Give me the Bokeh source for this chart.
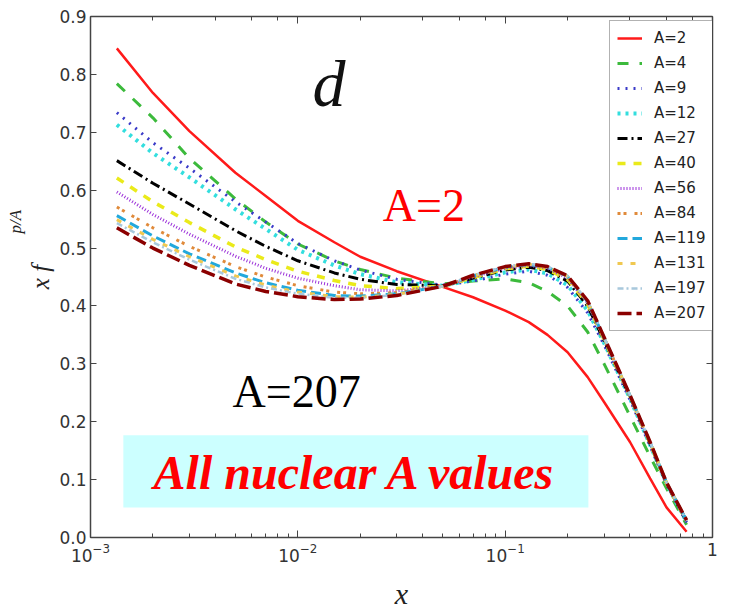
import math
from bokeh.plotting import figure
from bokeh.models import (Range1d, LinearAxis, LogAxis, FixedTicker, PrintfTickFormatter,
                          Legend, LegendItem, Label, BoxAnnotation)
from bokeh.embed import file_html
from bokeh.resources import INLINE

# ---------------- data ----------------
x_vals = [0.00134, 0.002, 0.003, 0.005, 0.007, 0.01, 0.015, 0.02, 0.03, 0.05, 0.07,
          0.1, 0.13, 0.16, 0.2, 0.25, 0.3, 0.4, 0.5, 0.6, 0.75]

a2   = [0.845, 0.768, 0.702, 0.630, 0.590, 0.547, 0.510, 0.485, 0.460, 0.433, 0.415,
        0.392, 0.372, 0.350, 0.320, 0.277, 0.234, 0.165, 0.102, 0.052, 0.010]
a4   = [0.784, 0.725, 0.655, 0.585, 0.545, 0.507, 0.478, 0.463, 0.448, 0.438, 0.443,
        0.447, 0.440, 0.425, 0.400, 0.355, 0.300, 0.210, 0.140, 0.085, 0.022]
a9   = [0.734, 0.682, 0.638, 0.580, 0.545, 0.508, 0.478, 0.462, 0.446, 0.436, 0.443,
        0.455, 0.460, 0.453, 0.432, 0.388, 0.333, 0.238, 0.158, 0.092, 0.026]
a12  = [0.713, 0.664, 0.622, 0.567, 0.533, 0.497, 0.470, 0.455, 0.441, 0.435, 0.445,
        0.458, 0.463, 0.456, 0.436, 0.392, 0.336, 0.240, 0.160, 0.093, 0.027]
a27  = [0.651, 0.612, 0.576, 0.530, 0.503, 0.478, 0.457, 0.446, 0.437, 0.435, 0.448,
        0.462, 0.467, 0.461, 0.443, 0.400, 0.340, 0.243, 0.162, 0.093, 0.028]
a40  = [0.621, 0.580, 0.544, 0.502, 0.480, 0.460, 0.444, 0.435, 0.430, 0.434, 0.449,
        0.464, 0.469, 0.463, 0.446, 0.403, 0.342, 0.244, 0.163, 0.094, 0.028]
a56  = [0.597, 0.558, 0.524, 0.486, 0.465, 0.448, 0.435, 0.428, 0.426, 0.434, 0.450,
        0.465, 0.470, 0.465, 0.448, 0.405, 0.343, 0.244, 0.163, 0.094, 0.028]
a84  = [0.571, 0.535, 0.503, 0.468, 0.450, 0.435, 0.424, 0.421, 0.423, 0.434, 0.451,
        0.466, 0.471, 0.466, 0.450, 0.406, 0.344, 0.245, 0.164, 0.094, 0.029]
a119 = [0.556, 0.521, 0.490, 0.457, 0.440, 0.427, 0.418, 0.417, 0.421, 0.434, 0.452,
        0.467, 0.472, 0.467, 0.451, 0.407, 0.345, 0.245, 0.164, 0.095, 0.029]
a131 = [0.549, 0.515, 0.485, 0.452, 0.436, 0.424, 0.416, 0.415, 0.420, 0.434, 0.452,
        0.467, 0.472, 0.467, 0.451, 0.407, 0.345, 0.245, 0.164, 0.095, 0.029]
a197 = [0.543, 0.510, 0.480, 0.447, 0.432, 0.421, 0.414, 0.414, 0.419, 0.434, 0.453,
        0.468, 0.473, 0.468, 0.452, 0.408, 0.346, 0.246, 0.165, 0.095, 0.029]
a207 = [0.535, 0.500, 0.470, 0.438, 0.425, 0.416, 0.411, 0.412, 0.418, 0.434, 0.453,
        0.468, 0.473, 0.468, 0.452, 0.409, 0.346, 0.246, 0.165, 0.095, 0.030]

labels = ["A=2", "A=4", "A=9", "A=12", "A=27", "A=40", "A=56", "A=84",
          "A=119", "A=131", "A=197", "A=207"]
series = [a2, a4, a9, a12, a27, a40, a56, a84, a119, a131, a197, a207]
y_ticks = [0.0, 0.1, 0.2, 0.3, 0.4, 0.5, 0.6, 0.7, 0.8, 0.9]

# styles
colors = ["#ff1a1a", "#3cba3c", "#3a3ac8", "#33dede", "#000000", "#eaea1a",
          "#9b30d9", "#e08a3a", "#22a8dc", "#f0c850", "#a8c8dc", "#8b0000"]
dashes = ["solid", "11 11", "2 6", "3 5", "10 4 2 4", "8 8",
          "1 2", "3 3 3 8", "10 5", "5 8", "6 3 2 3", "14 5"]
widths = [2.5, 3, 3, 4, 3, 3.5, 3, 3, 3, 3, 2.5, 3.5]

W, H = 729, 614
p = figure(width=W, height=H, x_axis_type="log", output_backend="svg",
           toolbar_location=None,
           x_range=Range1d(1e-3, 1), y_range=Range1d(0, 0.9),
           min_border_left=90, min_border_right=17, min_border_top=16, min_border_bottom=77)
p.background_fill_color = "white"
p.border_fill_color = "white"
p.outline_line_color = None
p.xgrid.visible = False
p.ygrid.visible = False

axis_col = "#444444"
tick_font = "DejaVu Sans"
NB = "\u00a0"

# bottom axis
xa = p.xaxis[0]
xa.axis_label = "x"
xa.axis_label_text_font = "Liberation Serif"
xa.axis_label_text_font_style = "italic"
xa.axis_label_text_font_size = "30px"
xa.axis_label_text_color = "#222222"
xa.axis_label_standoff = 12
xa.major_label_text_font = tick_font
xa.major_label_text_font_size = "17px"
xa.major_label_text_color = "#333333"
xa.major_label_overrides = {1: "1"}
xa.axis_line_color = axis_col
xa.axis_line_width = 1.5
xa.major_tick_in = 7
xa.major_tick_out = 0
xa.minor_tick_in = 4
xa.minor_tick_out = 0
xa.major_tick_line_color = axis_col
xa.minor_tick_line_color = axis_col
xa.major_label_standoff = 5

# left axis
ya = p.yaxis[0]
ya.ticker = FixedTicker(ticks=y_ticks)
ya.formatter = PrintfTickFormatter(format="%.1f")
ya.major_label_text_font = tick_font
ya.major_label_text_font_size = "17px"
ya.major_label_text_color = "#333333"
ya.axis_line_color = axis_col
ya.axis_line_width = 1.5
ya.major_tick_in = 6
ya.major_tick_out = 0
ya.minor_tick_line_color = None
ya.major_tick_line_color = axis_col
ya.major_label_standoff = 4
ya.axis_label = "x f"
ya.axis_label_text_font = "Liberation Serif"
ya.axis_label_text_font_style = "italic"
ya.axis_label_text_font_size = "25px"
ya.axis_label_text_color = "#222222"
ya.axis_label_standoff = 2

# extra left axis carrying only the raised "p/A" part of the y label
ya2 = LinearAxis(ticker=FixedTicker(ticks=[]),
                 axis_line_color=None, major_tick_line_color=None, minor_tick_line_color=None,
                 major_tick_in=0, major_tick_out=0, minor_tick_in=0, minor_tick_out=0,
                 major_label_text_font_size="1px", major_label_text_alpha=0.0,
                 major_label_standoff=0, axis_label=NB * 26 + "p/A",
                 axis_label_text_font="Liberation Serif", axis_label_text_font_style="italic",
                 axis_label_text_font_size="17px", axis_label_text_color="#222222",
                 axis_label_standoff=0)
p.add_layout(ya2, "left")

# right axis (ticks only)
ra = LinearAxis(ticker=FixedTicker(ticks=y_ticks), major_label_text_font_size="1px",
                major_label_text_alpha=0.0,
                axis_line_color=axis_col, axis_line_width=1.5, major_tick_in=6,
                major_tick_out=0, minor_tick_line_color=None,
                major_tick_line_color=axis_col, major_label_standoff=0)
p.add_layout(ra, "right")
# top axis (ticks only)
ta = LogAxis(major_label_text_font_size="1px", major_label_text_alpha=0.0,
             axis_line_color=axis_col, axis_line_width=1.5,
             major_tick_in=7, major_tick_out=0, minor_tick_in=4, minor_tick_out=0,
             major_tick_line_color=axis_col, minor_tick_line_color=axis_col,
             major_label_standoff=0)
p.add_layout(ta, "above")

# annotation box
box = BoxAnnotation(left=0.00144, right=0.252, bottom=0.052, top=0.1765,
                    fill_color="#ccffff", fill_alpha=1.0, line_color=None, level="underlay")
p.add_layout(box)

# curves
items = []
for lab, ys, c, d, w in zip(labels, series, colors, dashes, widths):
    r = p.line(x_vals, ys, line_color=c, line_dash=d, line_width=w)
    items.append(LegendItem(label=lab, renderers=[r]))

legend = Legend(items=items, location=(519, 206), glyph_width=25, glyph_height=20,
                label_height=20, spacing=5, padding=7, label_standoff=12, margin=0,
                label_text_font=tick_font, label_text_font_size="15px",
                label_text_color="#222222", border_line_color="#666666",
                border_line_width=1.5, background_fill_color="white",
                background_fill_alpha=1.0)
p.add_layout(legend)

# texts
p.add_layout(Label(x=0.01178, y=0.784, text="d", text_font="Liberation Serif",
                   text_font_style="italic", text_font_size="66px", text_color="#111111",
                   text_baseline="alphabetic"))
p.add_layout(Label(x=0.0257, y=0.574, text="A=2", text_font="Liberation Serif",
                   text_font_size="46px", text_color="#ff0000", text_baseline="alphabetic"))
p.add_layout(Label(x=0.00484, y=0.252, text="A=207", text_font="Liberation Serif",
                   text_font_size="46px", text_color="#000000", text_baseline="alphabetic"))
p.add_layout(Label(x=0.019, y=0.113, text="All nuclear A values", text_font="Liberation Serif",
                   text_font_style="bold italic", text_font_size="48px", text_color="#ff0000",
                   text_align="center", text_baseline="alphabetic"))

open("out.html", "w").write(file_html(p, INLINE))
